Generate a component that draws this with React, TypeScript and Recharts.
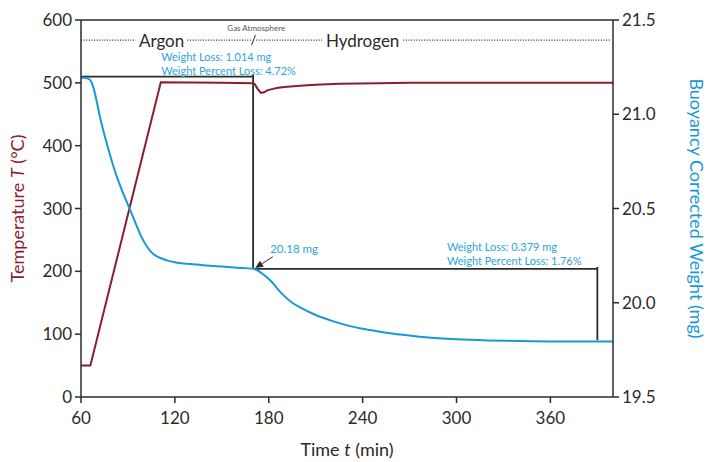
import { LineChart, Line, XAxis, YAxis, ReferenceLine, ReferenceDot } from "recharts";

// temperature program (left axis, °C)
const tempTime = [60, 66, 111, 130, 150, 170, 171, 173, 175, 177, 179, 182, 186, 190, 200, 210, 225, 250, 270, 400];
const tempValue = [50, 50, 501, 500.5, 500, 499.5, 498, 490, 484, 485, 488, 490, 492, 493.5, 495.5, 497, 498.5, 499.5, 500, 500];

// buoyancy corrected weight (right axis, mg)
const weightTime = [
  60, 62, 64, 66, 68, 70, 72, 75, 78, 82, 86, 90, 94, 98, 102, 106, 110, 115, 120, 130, 140, 150, 160, 170,
  172, 175, 178, 182, 186, 190, 195, 200, 210, 220, 230, 240, 250, 260, 270, 280, 300, 320, 340, 360, 380, 400,
];
const weightValue = [
  21.194, 21.194, 21.19, 21.18, 21.14, 21.07, 20.99, 20.89, 20.8, 20.69, 20.6, 20.52, 20.44, 20.36, 20.3, 20.26,
  20.24, 20.225, 20.215, 20.205, 20.198, 20.192, 20.186, 20.18, 20.175, 20.16, 20.14, 20.11, 20.07, 20.035, 20.0,
  19.975, 19.935, 19.905, 19.88, 19.862, 19.848, 19.836, 19.826, 19.817, 19.806, 19.8, 19.797, 19.795, 19.794,
  19.794,
];

const timeTicks = [60, 120, 180, 240, 300, 360];
const tempTicks = [0, 100, 200, 300, 400, 500, 600];
const weightTicks = [19.5, 20, 20.5, 21, 21.5];

// gas atmosphere dotted guide (time ranges) and step annotations
const gasLineY = 568;
const gasSegments: [number, number][] = [
  [60, 95],
  [128, 168.5],
  [172, 214],
  [266, 398],
];
const steps = {
  startWeight: 21.2,
  switchTime: 170,
  midWeight: 20.18,
  endTime: 390,
  endWeight: 19.801,
};

const tempData = tempTime.map((t, i) => ({ t, v: tempValue[i] }));
const weightData = weightTime.map((t, i) => ({ t, v: weightValue[i] }));

const RED = "#8c1d2e";
const BLUE = "#1899d6";
const NOTE = "#2aa4e0";
const INK = "#2b2b2b";
const FONT = "Lato, 'DejaVu Sans', sans-serif";

const textLabel =
  (lines: string[], size: number, color: string, anchor: "start" | "middle" = "start", gap = 14) =>
  (props: any) => {
    const vb = props.viewBox || {};
    const x = vb.x + (vb.width || 0) / 2;
    const y = vb.y + (vb.height || 0) / 2;
    return (
      <text x={x} y={y} fill={color} fontSize={size} textAnchor={anchor} dominantBaseline="central" fontFamily={FONT}>
        {lines.map((l, i) => (
          <tspan key={i} x={x} dy={i === 0 ? 0 : gap}>
            {l}
          </tspan>
        ))}
      </text>
    );
  };

const XTitle = (props: any) => {
  const { x, y, width } = props.viewBox;
  return (
    <text x={x + width / 2} y={y + 52} textAnchor="middle" dominantBaseline="central" fontSize={18} fill={INK} fontFamily={FONT}>
      Time <tspan fontStyle="italic">t</tspan> (min)
    </text>
  );
};

const LeftTitle = (props: any) => {
  const { y, height } = props.viewBox;
  const cy = y + height / 2;
  return (
    <text x={17} y={cy} transform={`rotate(-90 17 ${cy})`} textAnchor="middle" dominantBaseline="central" fontSize={18} fill={RED} fontFamily={FONT}>
      Temperature <tspan fontStyle="italic">T</tspan> (°C)
    </text>
  );
};

const RightTitle = (props: any) => {
  const { y, height } = props.viewBox;
  const cy = y + height / 2;
  return (
    <text x={697} y={cy} transform={`rotate(90 697 ${cy})`} textAnchor="middle" dominantBaseline="central" fontSize={18} fill={BLUE} fontFamily={FONT}>
      Buoyancy Corrected Weight (mg)
    </text>
  );
};

const Arrow = (props: any) => {
  const { x1, y1, x2, y2 } = props;
  const a = Math.atan2(y2 - y1, x2 - x1);
  const L = 8;
  const W = 3.5;
  const bx = x2 - L * Math.cos(a);
  const by = y2 - L * Math.sin(a);
  const px = -Math.sin(a) * W;
  const py = Math.cos(a) * W;
  return (
    <g>
      <line x1={x1} y1={y1} x2={bx} y2={by} stroke={INK} strokeWidth={1} />
      <polygon points={`${x2},${y2} ${bx + px},${by + py} ${bx - px},${by - py}`} fill={INK} />
    </g>
  );
};

export default function App() {
  return (
    <div style={{ position: "absolute", left: 0, top: 0, width: 707, height: 462, background: "#fff", fontFamily: FONT }}>
      <LineChart width={707} height={462} margin={{ top: 20, right: 0, bottom: 0, left: 0 }}>
        <XAxis
          type="number"
          dataKey="t"
          domain={[60, 400]}
          ticks={timeTicks}
          allowDataOverflow
          height={65}
          stroke={INK}
          strokeWidth={1.5}
          tick={{ fill: INK, fontSize: 17 }}
          tickSize={6}
          tickMargin={9}
          label={XTitle}
        />
        <YAxis
          yAxisId="left"
          domain={[0, 600]}
          ticks={tempTicks}
          width={81}
          stroke={INK}
          strokeWidth={1.5}
          tick={{ fill: INK, fontSize: 17 }}
          tickSize={6}
          tickMargin={3}
          label={LeftTitle}
        />
        <YAxis
          yAxisId="right"
          orientation="right"
          domain={[19.5, 21.5]}
          ticks={weightTicks}
          tickFormatter={(v: number) => v.toFixed(1)}
          width={94}
          stroke={INK}
          strokeWidth={1.5}
          tick={{ fill: INK, fontSize: 17 }}
          tickSize={6}
          tickMargin={3}
          label={RightTitle}
        />
        <ReferenceLine yAxisId="left" y={600} stroke={INK} strokeWidth={1.5} />

        {gasSegments.map(([a, b], i) => (
          <ReferenceLine
            key={`gas-${i}`}
            yAxisId="left"
            segment={[
              { x: a, y: gasLineY },
              { x: b, y: gasLineY },
            ]}
            stroke={INK}
            strokeWidth={1.2}
            strokeDasharray="1 1.6"
          />
        ))}
        <ReferenceLine
          yAxisId="left"
          segment={[
            { x: 169, y: gasLineY - 8 },
            { x: 171.5, y: gasLineY + 8 },
          ]}
          stroke={INK}
          strokeWidth={1}
        />
        <ReferenceDot yAxisId="left" x={111.5} y={gasLineY} r={0} fill="none" stroke="none" label={textLabel(["Argon"], 17, INK, "middle")} />
        <ReferenceDot yAxisId="left" x={240} y={gasLineY} r={0} fill="none" stroke="none" label={textLabel(["Hydrogen"], 17, INK, "middle")} />
        <ReferenceDot yAxisId="left" x={172} y={588} r={0} fill="none" stroke="none" label={textLabel(["Gas Atmosphere"], 8, "#555", "middle")} />
        <ReferenceDot
          yAxisId="left"
          x={111.3}
          y={543}
          r={0}
          fill="none"
          stroke="none"
          label={textLabel(["Weight Loss: 1.014 mg", "Weight Percent Loss: 4.72%"], 11, NOTE)}
        />
        <ReferenceDot
          yAxisId="right"
          x={293.9}
          y={20.303}
          r={0}
          fill="none"
          stroke="none"
          label={textLabel(["Weight Loss: 0.379 mg", "Weight Percent Loss: 1.76%"], 11, NOTE)}
        />
        <ReferenceDot yAxisId="right" x={180.9} y={20.29} r={0} fill="none" stroke="none" label={textLabel(["20.18 mg"], 11.5, NOTE)} />

        <ReferenceLine
          yAxisId="right"
          segment={[
            { x: 60, y: steps.startWeight },
            { x: steps.switchTime, y: steps.startWeight },
          ]}
          stroke={INK}
          strokeWidth={1.8}
        />
        <ReferenceLine
          yAxisId="right"
          segment={[
            { x: steps.switchTime, y: steps.startWeight + 0.01 },
            { x: steps.switchTime, y: steps.midWeight },
          ]}
          stroke={INK}
          strokeWidth={1.8}
        />
        <ReferenceLine
          yAxisId="right"
          segment={[
            { x: steps.switchTime, y: steps.midWeight },
            { x: steps.endTime, y: steps.midWeight },
          ]}
          stroke={INK}
          strokeWidth={1.8}
        />
        <ReferenceLine
          yAxisId="right"
          segment={[
            { x: steps.endTime, y: steps.midWeight + 0.01 },
            { x: steps.endTime, y: steps.endWeight },
          ]}
          stroke={INK}
          strokeWidth={1.8}
        />
        <ReferenceLine
          yAxisId="right"
          segment={[
            { x: 182.6, y: 20.244 },
            { x: 171.3, y: 20.184 },
          ]}
          shape={Arrow}
        />

        <Line
          yAxisId="left"
          data={tempData}
          dataKey="v"
          type="linear"
          stroke={RED}
          strokeWidth={2}
          dot={false}
          isAnimationActive={false}
        />
        <Line
          yAxisId="right"
          data={weightData}
          dataKey="v"
          type="monotone"
          stroke={BLUE}
          strokeWidth={2}
          dot={false}
          isAnimationActive={false}
        />
      </LineChart>
    </div>
  );
}
